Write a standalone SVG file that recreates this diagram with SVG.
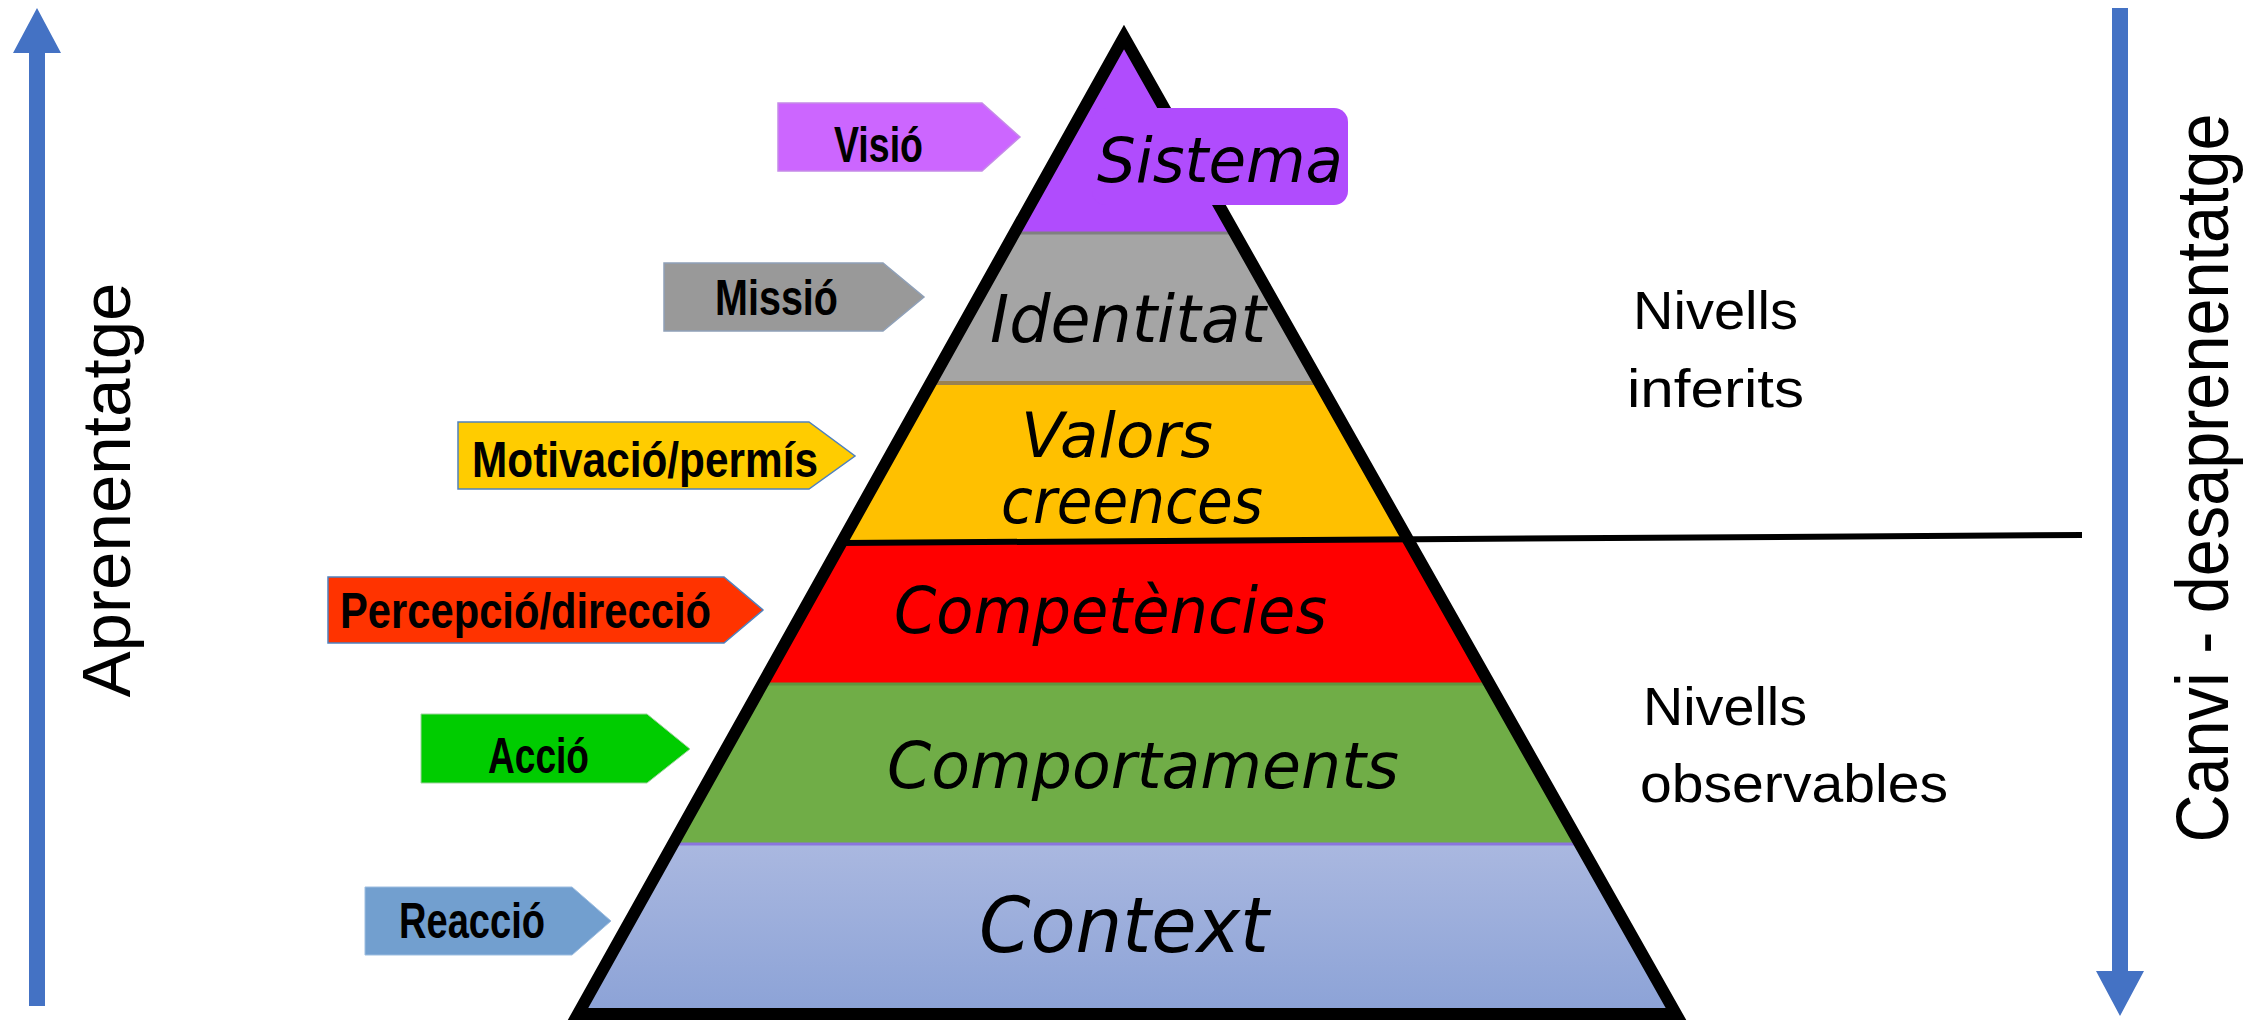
<svg xmlns="http://www.w3.org/2000/svg" width="2259" height="1020" viewBox="0 0 2259 1020">
<style>
.hand{font-family:"Comic Sans MS","DejaVu Sans",sans-serif;font-style:italic;fill:#000}
.tag{font-family:"Liberation Sans Narrow","Liberation Sans",sans-serif;font-weight:bold;font-size:50px;fill:#000}
.side{font-family:"Liberation Sans",sans-serif;fill:#000}
.blue{fill:#4472c4}
</style>
<defs>
<clipPath id="tri"><polygon points="1124,37 578,1014 1676,1014"/></clipPath>
<linearGradient id="ctx" x1="0" y1="0" x2="0" y2="1">
<stop offset="0" stop-color="#aab8e0"/>
<stop offset="1" stop-color="#8aa1d6"/>
</linearGradient>
</defs>
<rect width="2259" height="1020" fill="#fff"/>

<g id="arrow-aprenentatge">
<polygon class="blue" points="29,1006 29,53 13,53 37,8 61,53 45,53 45,1006"/>
<text class="side" font-size="68" text-anchor="middle" textLength="415" lengthAdjust="spacingAndGlyphs" transform="translate(130,490) rotate(-90)">Aprenentatge</text>
</g>

<g id="arrow-canvi">
<polygon class="blue" points="2112,8 2128,8 2128,971 2144,971 2120,1016 2096,971 2112,971"/>
<text class="side" font-size="74" text-anchor="middle" textLength="729" lengthAdjust="spacingAndGlyphs" transform="translate(2228,478) rotate(-90)">Canvi - desaprenentatge</text>
</g>

<g id="pyramid">
<g clip-path="url(#tri)">
<rect x="500" y="0" width="1300" height="232" fill="#b04cfd"/>
<rect x="500" y="232" width="1300" height="151" fill="#a5a5a5"/>
<rect x="500" y="383" width="1300" height="158" fill="#ffc000"/>
<rect x="500" y="541" width="1300" height="142" fill="#ff0000"/>
<rect x="500" y="683" width="1300" height="160" fill="#70ad47"/>
<rect x="500" y="843" width="1300" height="180" fill="url(#ctx)"/>
<line x1="500" y1="233" x2="1800" y2="233" stroke="#808080" stroke-width="3"/>
<line x1="500" y1="383" x2="1800" y2="383" stroke="#9a8250" stroke-width="4"/>
<line x1="500" y1="684" x2="1800" y2="684" stroke="#5f9640" stroke-width="3"/>
<line x1="500" y1="844" x2="1800" y2="844" stroke="#8a76dd" stroke-width="3"/>
</g>
<polygon points="1124,37 578,1014 1676,1014" fill="none" stroke="#000" stroke-width="12"/>
</g>

<g id="connectors">
<line x1="842" y1="543" x2="2082" y2="535" stroke="#000" stroke-width="6"/>
</g>

<g id="level-sistema">
<rect x="1092" y="108" width="256" height="97" rx="14" fill="#b04cfd"/>
<text class="hand" x="1097" y="182" font-size="62" textLength="246" lengthAdjust="spacingAndGlyphs">Sistema</text>
</g>
<g id="level-identitat">
<text class="hand" x="990" y="342" font-size="66" textLength="276" lengthAdjust="spacingAndGlyphs">Identitat</text>
</g>
<g id="level-valors">
<text class="hand" font-size="62"><tspan x="1021" y="457" textLength="192" lengthAdjust="spacingAndGlyphs">Valors</tspan><tspan x="1001" y="523" textLength="262" lengthAdjust="spacingAndGlyphs">creences</tspan></text>
</g>
<g id="level-competencies">
<text class="hand" x="894" y="633" font-size="64" textLength="433" lengthAdjust="spacingAndGlyphs">Competències</text>
</g>
<g id="level-comportaments">
<text class="hand" x="887" y="788" font-size="64" textLength="512" lengthAdjust="spacingAndGlyphs">Comportaments</text>
</g>
<g id="level-context">
<text class="hand" x="979" y="952" font-size="76" textLength="290" lengthAdjust="spacingAndGlyphs">Context</text>
</g>

<g id="tag-visio">
<polygon points="778,103 982,103 1020,137 982,171 778,171" fill="#cc66ff" stroke="#c58be8" stroke-width="1.5"/>
<text class="tag" x="834" y="162" textLength="89" lengthAdjust="spacingAndGlyphs">Visió</text>
</g>
<g id="tag-missio">
<polygon points="664,263 883,263 924,297 883,331 664,331" fill="#999999" stroke="#8fa0b8" stroke-width="1.5"/>
<text class="tag" x="715" y="315" textLength="123" lengthAdjust="spacingAndGlyphs">Missió</text>
</g>
<g id="tag-motivacio">
<polygon points="458,422 809,422 855,456 809,489 458,489" fill="#ffcc00" stroke="#4f81bd" stroke-width="1.5"/>
<text class="tag" x="472" y="477" textLength="346" lengthAdjust="spacingAndGlyphs">Motivació/permís</text>
</g>
<g id="tag-percepcio">
<polygon points="328,577 724,577 763,610 724,643 328,643" fill="#ff3300" stroke="#4f81bd" stroke-width="1.5"/>
<text class="tag" x="340" y="628" textLength="371" lengthAdjust="spacingAndGlyphs">Percepció/direcció</text>
</g>
<g id="tag-accio">
<polygon points="421,714 647,714 690,749 647,783 421,783" fill="#00cc00" stroke="#9fd39f" stroke-width="1"/>
<text class="tag" x="488" y="773" textLength="101" lengthAdjust="spacingAndGlyphs">Acció</text>
</g>
<g id="tag-reaccio">
<polygon points="365,887 572,887 611,921 572,955 365,955" fill="#729fcf" stroke="#9cbde0" stroke-width="1"/>
<text class="tag" x="399" y="938" textLength="146" lengthAdjust="spacingAndGlyphs">Reacció</text>
</g>

<g id="label-inferits">
<text class="side" x="1633" y="329" font-size="54" textLength="165" lengthAdjust="spacingAndGlyphs">Nivells</text>
<text class="side" x="1627" y="407" font-size="54" textLength="177" lengthAdjust="spacingAndGlyphs">inferits</text>
</g>
<g id="label-observables">
<text class="side" x="1643" y="725" font-size="54" textLength="164" lengthAdjust="spacingAndGlyphs">Nivells</text>
<text class="side" x="1640" y="802" font-size="54" textLength="308" lengthAdjust="spacingAndGlyphs">observables</text>
</g>
</svg>
